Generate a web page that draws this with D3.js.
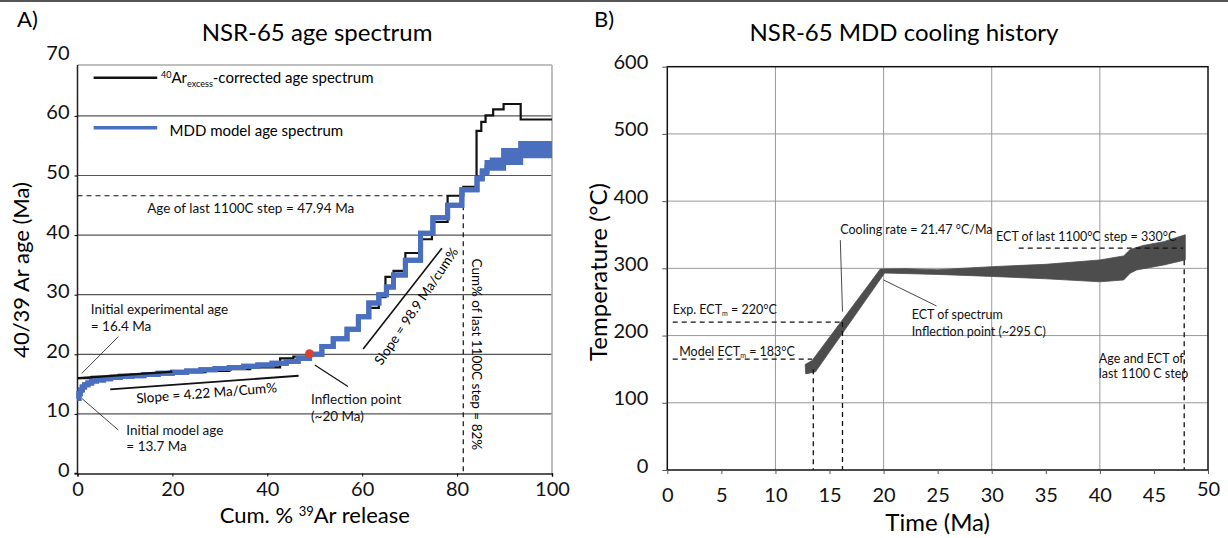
<!DOCTYPE html>
<html>
<head>
<meta charset="utf-8">
<script src="https://cdn.jsdelivr.net/npm/d3@7"></script>
<style>
    body { margin: 0; background: #fff; }
    svg { display: block; font-family: Lato, "Open Sans", sans-serif; }
</style>
</head>
<body>
<svg id="chart" width="1228" height="538"></svg>
<script>
// ---- Panel A: age spectrum ----
const cumTicks = [0, 20, 40, 60, 80, 100];
const ageTicks = [0, 10, 20, 30, 40, 50, 60, 70];

// 40Ar excess-corrected spectrum (step start in cum %, age in Ma)
const expCum = [0, 3, 7, 12, 17, 22, 27, 32, 36.4, 42.7, 45.5, 48.3, 51.6, 54, 56.8, 59.2, 61.3, 63.5, 64.9, 66.6, 69.1, 72.3, 74.7, 78, 81.3, 84.1, 85.1, 86, 87.6, 89.8, 93.4];
const expAge = [16.0, 16.2, 16.4, 16.6, 16.8, 17.0, 17.2, 17.5, 17.8, 19.3, 19.6, 20.0, 21.4, 22.7, 24.3, 26.4, 27.8, 29.6, 33.0, 34.0, 37.0, 39.3, 42.2, 46.6, 48.1, 57.5, 59.0, 60.1, 61.1, 62.0, 59.4];

// MDD model spectrum (band low / high edge)
const modelCum = [0, 0.3, 0.6, 1, 1.5, 2.2, 3, 4, 5.5, 7, 9, 11.5, 14, 17, 20, 23, 26, 29, 32, 35, 38, 41, 44, 46.5, 48.9, 51.5, 53.9, 56.8, 59.2, 61.4, 63.5, 65.1, 66.6, 69.1, 72.3, 74.9, 78, 81, 84.2, 85.3, 86.3, 87.4, 89.8, 93.4];
const modelLo = [12.6, 13.4, 14.0, 14.5, 14.9, 15.2, 15.5, 15.7, 15.9, 16.1, 16.3, 16.4, 16.6, 16.8, 17.0, 17.2, 17.4, 17.6, 17.8, 18.0, 18.2, 18.5, 18.8, 19.3, 20.0, 21.3, 22.6, 24.2, 26.3, 28.6, 30.0, 31.3, 33.3, 35.8, 40.3, 42.9, 45.0, 47.6, 49.4, 50.4, 51.4, 51.2, 52.2, 53.3];
const modelHi = [12.6, 13.4, 14.0, 14.5, 14.9, 15.2, 15.5, 15.7, 15.9, 16.1, 16.3, 16.4, 16.6, 16.8, 17.0, 17.2, 17.4, 17.6, 17.8, 18.0, 18.2, 18.5, 18.8, 19.3, 20.0, 21.3, 22.6, 24.2, 26.3, 28.6, 30.0, 31.3, 33.3, 35.8, 40.3, 42.9, 45.0, 47.6, 49.6, 50.8, 52.2, 52.6, 54.2, 55.35];

const inflection = { cum: 48.9, age: 20.1 };

// ---- Panel B: cooling history ----
const timeTicks = [0, 5, 10, 15, 20, 25, 30, 35, 40, 45, 50];
const tempTicks = [0, 100, 200, 300, 400, 500, 600];
const bandTopTime = [12.75, 13.4, 19.7, 22, 25, 30, 35, 40, 42.2, 42.8, 44, 45.9, 47.9];
const bandTopTemp = [157, 163, 299, 299.5, 298, 302.5, 306, 312.5, 318.5, 328, 334, 339.7, 350];
const bandBotTime = [12.8, 13.7, 20.1, 25, 30, 35, 40, 42.2, 42.8, 43.4, 45.9, 47.9];
const bandBotTemp = [143, 146, 293, 291, 288, 284.5, 280, 282.7, 292.7, 297.6, 305, 312.5];

const svg = d3.select("#chart");
const blue = "#4a6fbe";

// top rule
svg.append("line").attr("x1", 0).attr("x2", 1228).attr("y1", 1).attr("y2", 1)
    .attr("stroke", "#555").attr("stroke-width", 2);

// =============== Panel A ===============
const xA = d3.scaleLinear().domain([0, 100]).range([77.5, 552]);
const yA = d3.scaleLinear().domain([0, 70]).range([473.5, 56.3]);
const gA = svg.append("g");

gA.append("text").attr("x", 17).attr("y", 27).attr("font-size", 22).text("A)");
gA.append("text").attr("x", 317).attr("y", 41).attr("text-anchor", "middle")
    .attr("font-size", 24).text("NSR-65 age spectrum");

// grid
gA.selectAll(".grid").data(ageTicks.filter(d => d > 0 && d < 70)).join("line")
    .attr("x1", xA(0)).attr("x2", xA(100))
    .attr("y1", d => yA(d)).attr("y2", d => yA(d))
    .attr("stroke", "#555").attr("stroke-width", 1.2);

// frame
gA.append("line").attr("x1", xA(0)).attr("x2", xA(100)).attr("y1", 65).attr("y2", 65)
    .attr("stroke", "#aaa").attr("stroke-width", 1.5);
gA.append("line").attr("x1", xA(100)).attr("x2", xA(100)).attr("y1", 65).attr("y2", yA(0))
    .attr("stroke", "#aaa").attr("stroke-width", 1.5);

const axA = gA.append("g").attr("transform", `translate(0,${yA(0)})`)
    .call(d3.axisBottom(xA).tickValues(cumTicks).tickSize(3).tickPadding(5));
const ayA = gA.append("g").attr("transform", `translate(${xA(0)},0)`)
    .call(d3.axisLeft(yA).tickValues(ageTicks).tickSize(3).tickPadding(5));
[axA, ayA].forEach(a => {
    a.select(".domain").attr("stroke", "#222").attr("stroke-width", 1.5);
    a.selectAll("text").attr("font-size", 20).attr("font-family", "Lato").attr("fill", "#111");
});
ayA.select(".domain").attr("d", `M-3,${yA(0)}H0V65`);
ayA.selectAll(".tick line").filter(d => d === 70).remove();
ayA.selectAll("text").attr("dy", "0.15em");

// axis titles
gA.append("text").attr("transform", "translate(29,270) rotate(-90)")
    .attr("text-anchor", "middle").attr("font-size", 22).text("40/39 Ar age (Ma)");
const xlabA = gA.append("text").attr("x", xA(50)).attr("y", 523).attr("text-anchor", "middle").attr("font-size", 22);
xlabA.append("tspan").text("Cum. % ");
xlabA.append("tspan").attr("font-size", 13).attr("baseline-shift", "55%").text("39");
xlabA.append("tspan").text("Ar release");

// dashed guides
gA.append("line").attr("x1", xA(0)).attr("x2", xA(78.9)).attr("y1", yA(46.6)).attr("y2", yA(46.6))
    .attr("stroke", "#111").attr("stroke-width", 1.2).attr("stroke-dasharray", "5,4");
gA.append("line").attr("x1", xA(81.3)).attr("x2", xA(81.3)).attr("y1", yA(45)).attr("y2", yA(0))
    .attr("stroke", "#111").attr("stroke-width", 1.2).attr("stroke-dasharray", "5,4");

// experimental spectrum
const expData = expCum.map((c, i) => [c, expAge[i]]).concat([[100, expAge[expAge.length - 1]]]);
gA.append("path").datum(expData)
    .attr("d", d3.line().x(d => xA(d[0])).y(d => yA(d[1])).curve(d3.curveStepAfter))
    .attr("fill", "none").attr("stroke", "#111").attr("stroke-width", 2.2);

// model spectrum band
const modelData = modelCum.map((c, i) => ({ c, lo: modelLo[i], hi: modelHi[i] }));
modelData.push({ c: 100, lo: modelLo[modelLo.length - 1], hi: modelHi[modelHi.length - 1] });
gA.append("path").datum(modelData)
    .attr("d", d3.area().x(d => xA(d.c)).y0(d => yA(d.lo)).y1(d => yA(d.hi)).curve(d3.curveStepAfter))
    .attr("fill", blue);
["lo", "hi"].forEach(k => {
    gA.append("path").datum(modelData)
        .attr("d", d3.line().x(d => xA(d.c)).y(d => yA(d[k])).curve(d3.curveStepAfter))
        .attr("fill", "none").attr("stroke", blue).attr("stroke-width", 5);
});

// slope lines and leaders
const segA = [
    [[6.9, 14.1], [46.6, 16.4], 1.8],
    [[0.2, 16.0], [20, 17.1], 2.2],
    [[60.2, 20.9], [76.8, 37.8], 1.6],
    [[8.6, 22.95], [0.9, 16.8], 0.8],
    [[0.9, 12.6], [8.6, 7.3], 0.8],
    [[50.0, 18.2], [57, 14.6], 1.2]
];
segA.forEach(s => {
    gA.append("line").attr("x1", xA(s[0][0])).attr("y1", yA(s[0][1]))
        .attr("x2", xA(s[1][0])).attr("y2", yA(s[1][1]))
        .attr("stroke", "#111").attr("stroke-width", s[2]);
});

gA.append("circle").attr("cx", xA(inflection.cum)).attr("cy", yA(inflection.age)).attr("r", 4.5)
    .attr("fill", "#d8432f");

// annotations
const noteA = [
    [2.8, 27.6, "Initial experimental age"],
    [2.8, 24.7, "= 16.4 Ma"],
    [10.3, 7.3, "Initial model age"],
    [10.3, 4.6, "= 13.7 Ma"],
    [49.2, 12.4, "Inflection point"],
    [49.2, 9.6, "(~20 Ma)"]
];
noteA.forEach(n => {
    gA.append("text").attr("x", xA(n[0])).attr("y", yA(n[1])).attr("dy", "0.35em")
        .attr("font-size", 13.5).attr("fill", "#111").text(n[2]);
});
gA.append("text").attr("x", xA(36.5)).attr("y", yA(44.5)).attr("dy", "0.35em").attr("text-anchor", "middle")
    .attr("font-size", 13.5).attr("fill", "#111").text("Age of last 1100C step = 47.94 Ma");
gA.append("text").attr("transform", `translate(${xA(27.2)},${yA(13.5)}) rotate(-4.5)`)
    .attr("dy", "0.35em").attr("text-anchor", "middle").attr("font-size", 13.5).text("Slope = 4.22 Ma/Cum%");
gA.append("text").attr("transform", `translate(${xA(71.4)},${yA(28.1)}) rotate(-56)`)
    .attr("dy", "0.35em").attr("text-anchor", "middle").attr("font-size", 13.5).text("Slope = 98.9 Ma/cum%");
gA.append("text").attr("transform", `translate(${xA(84.1)},${yA(20.0)}) rotate(90)`)
    .attr("dy", "0.35em").attr("text-anchor", "middle").attr("font-size", 13.5).text("Cum% of last 1100C step = 82%");

// legend
gA.append("line").attr("x1", xA(3.4)).attr("x2", xA(16.8)).attr("y1", yA(66.4)).attr("y2", yA(66.4))
    .attr("stroke", "#111").attr("stroke-width", 2.5);
const legT = gA.append("text").attr("x", xA(17.6)).attr("y", yA(65.6)).attr("font-size", 15);
legT.append("tspan").attr("font-size", 9).attr("baseline-shift", "60%").text("40");
legT.append("tspan").text("Ar");
legT.append("tspan").attr("font-size", 9).attr("baseline-shift", "-40%").text("excess");
legT.append("tspan").text("-corrected age spectrum");
gA.append("line").attr("x1", xA(3.4)).attr("x2", xA(16.8)).attr("y1", yA(58)).attr("y2", yA(58))
    .attr("stroke", blue).attr("stroke-width", 3.5);
gA.append("text").attr("x", xA(19.4)).attr("y", yA(57.5)).attr("dy", "0.35em").attr("font-size", 15)
    .text("MDD model age spectrum");

// =============== Panel B ===============
const xB = d3.scaleLinear().domain([0, 50]).range([667.3, 1208]);
const yB = d3.scaleLinear().domain([0, 600]).range([470, 66.7]);
const gB = svg.append("g");

gB.append("text").attr("x", 594).attr("y", 27).attr("font-size", 22).text("B)");
gB.append("text").attr("x", 904).attr("y", 41).attr("text-anchor", "middle")
    .attr("font-size", 24).text("NSR-65 MDD cooling history");

// grid
gB.selectAll(".gx").data([10, 20, 30, 40]).join("line")
    .attr("x1", d => xB(d)).attr("x2", d => xB(d)).attr("y1", yB(600)).attr("y2", yB(0))
    .attr("stroke", "#999").attr("stroke-width", 1);
gB.selectAll(".gy").data([100, 200, 300, 400, 500]).join("line")
    .attr("x1", xB(0)).attr("x2", xB(50)).attr("y1", d => yB(d)).attr("y2", d => yB(d))
    .attr("stroke", "#999").attr("stroke-width", 1);

// cooling band
const bandPts = bandTopTime.map((t, i) => [t, bandTopTemp[i]])
    .concat(bandBotTime.map((t, i) => [t, bandBotTemp[i]]).reverse());
gB.append("path").datum(bandPts)
    .attr("d", d3.line().x(d => xB(d[0])).y(d => yB(d[1])).curve(d3.curveLinearClosed))
    .attr("fill", "#4d4d4d").attr("stroke", "#4d4d4d").attr("stroke-width", 0.8);

// frame
gB.append("rect").attr("x", xB(0)).attr("y", yB(600)).attr("width", xB(50) - xB(0)).attr("height", yB(0) - yB(600))
    .attr("fill", "none").attr("stroke", "#111").attr("stroke-width", 1.5);

const axB = gB.append("g").attr("transform", `translate(0,${yB(0)})`)
    .call(d3.axisBottom(xB).tickValues(timeTicks).tickSize(4).tickPadding(14));
const ayB = gB.append("g").attr("transform", `translate(${xB(0)},0)`)
    .call(d3.axisLeft(yB).tickValues(tempTicks).tickSize(5).tickPadding(14));
[axB, ayB].forEach(a => {
    a.select(".domain").remove();
    a.selectAll("line").attr("stroke", "#555");
    a.selectAll("text").attr("font-size", 20).attr("font-family", "Lato").attr("fill", "#111");
});
ayB.selectAll("text").attr("dy", "0.1em");
axB.selectAll("text").filter(d => d === 50).attr("dy", "0.4em");

gB.append("text").attr("transform", "translate(607,272) rotate(-90)")
    .attr("text-anchor", "middle").attr("font-size", 24).text("Temperature (°C)");
gB.append("text").attr("x", xB(25)).attr("y", 531).attr("text-anchor", "middle")
    .attr("font-size", 24).text("Time (Ma)");

// dashed guides
const dashB = [
    [[0.5, 220], [16.2, 220]],
    [[16.2, 220], [16.2, 0]],
    [[0.5, 165], [13.4, 165]],
    [[13.5, 150], [13.5, 0]],
    [[32.5, 330], [47.7, 330]],
    [[47.8, 312], [47.8, 0]]
];
dashB.forEach(s => {
    gB.append("line").attr("x1", xB(s[0][0])).attr("y1", yB(s[0][1]))
        .attr("x2", xB(s[1][0])).attr("y2", yB(s[1][1]))
        .attr("stroke", "#111").attr("stroke-width", 1.3).attr("stroke-dasharray", "5,4");
});

// leaders
const leadB = [
    [[16.0, 342], [16.2, 235.6]],
    [[20.0, 282.7], [24.9, 244]]
];
leadB.forEach(s => {
    gB.append("line").attr("x1", xB(s[0][0])).attr("y1", yB(s[0][1]))
        .attr("x2", xB(s[1][0])).attr("y2", yB(s[1][1]))
        .attr("stroke", "#333").attr("stroke-width", 0.9);
});

// annotations
function subText(x, y, pre, sub, post) {
    const el = gB.append("text").attr("x", xB(x)).attr("y", yB(y)).attr("dy", "0.35em")
        .attr("font-size", 12.5).attr("fill", "#111");
    el.append("tspan").text(pre);
    el.append("tspan").attr("font-size", 7).attr("baseline-shift", "-30%").text(sub);
    el.append("tspan").text(post);
}
const noteB = [
    [16.0, 357, "Cooling rate = 21.47 °C/Ma"],
    [22.6, 230.7, "ECT of spectrum"],
    [22.6, 205.8, "Inflection point (~295 C)"],
    [30.4, 347, "ECT of last 1100°C step = 330°C"],
    [39.9, 166, "Age and ECT of"],
    [39.9, 144, "last 1100 C step"]
];
noteB.forEach(n => {
    gB.append("text").attr("x", xB(n[0])).attr("y", yB(n[1])).attr("dy", "0.35em")
        .attr("font-size", 12.5).attr("fill", "#111").text(n[2]);
});
subText(0.5, 239, "Exp. ECT", "m", " = 220°C");
subText(1.1, 176, "Model ECT", "m", " = 183°C");
</script>
</body>
</html>
